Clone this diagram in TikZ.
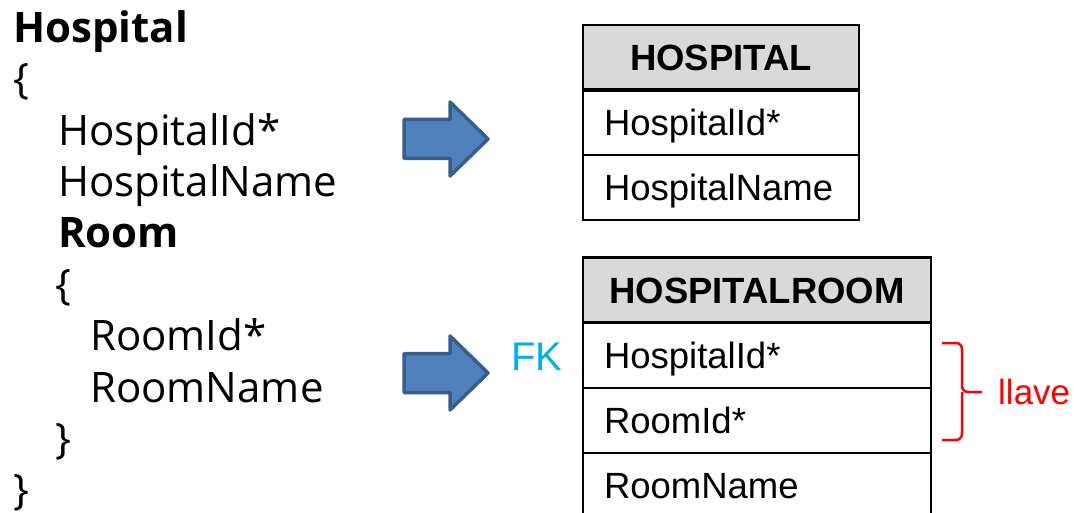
\documentclass[tikz,border=0pt]{standalone}
\usepackage{fontspec}
\setmainfont{Open Sans}
\newfontfamily\arialfont{Liberation Sans}
\usetikzlibrary{positioning}
\definecolor{headgray}{HTML}{D9D9D9}
\definecolor{arrowfill}{HTML}{4F81BD}
\definecolor{arrowline}{HTML}{385D8A}
\definecolor{fkcyan}{HTML}{00B0F0}

\begin{document}
\begin{tikzpicture}
[x=1pt,y=-1pt,
code/.style={font=\fontsize{42}{50}\selectfont,anchor=base west,inner sep=0pt},
thead/.style={draw,line width=2.5pt,fill=headgray,outer sep=0pt,inner sep=0pt,
  font=\arialfont\bfseries\fontsize{36.5}{43}\selectfont,
  minimum height=65pt,text height=26pt,text depth=0pt},
trow/.style={draw,line width=2pt,outer sep=0pt,inner ysep=0pt,inner xsep=21pt,
  font=\arialfont\fontsize{36.5}{43}\selectfont,align=left,
  minimum height=65pt,text height=26pt,text depth=0pt},
blockarrow/.style={fill=arrowfill,draw=arrowline,line width=3.5pt,line join=round},
]
\clip (0,0) rectangle (1074,513);

\node[code,font=\bfseries\fontsize{42}{50}\selectfont] (hosp) at (13,43) {Hospital};
\node[code] (ob1) at (13,94) {\{};
\node[code] (hid) at (58,146) {HospitalId*};
\node[code] (hname) at (58,197) {HospitalName};
\node[code,font=\bfseries\fontsize{42}{50}\selectfont] (room) at (58,248) {Room};
\node[code] (ob2) at (55,299) {\{};
\node[code] (rid) at (90,350) {RoomId*};
\node[code] (rname) at (90,402) {RoomName};
\node[code] (cb2) at (55,453) {\}};
\node[code] (cb1) at (13,504) {\}};

\foreach \y in {139,373}
  \draw[blockarrow] (404,\y-19.5) -- (450,\y-19.5) -- (450,\y-37) -- (488,\y)
    -- (450,\y+37) -- (450,\y+19.5) -- (404,\y+19.5) -- cycle;

\node[thead,minimum width=276pt] (t1) at (721,57.5) {HOSPITAL};
\node[trow,text width=234pt,below=0pt of t1] (t1a) {HospitalId*};
\node[trow,text width=234pt,below=0pt of t1a] (t1b) {HospitalName};
\draw[line width=3.5pt] (t1.south west) -- (t1.south east);

\node[thead,minimum width=348pt] (t2) at (757,290) {HOSPITALROOM};
\node[trow,text width=306pt,below=0pt of t2] (t2a) {HospitalId*};
\node[trow,text width=306pt,below=0pt of t2a] (t2b) {RoomId*};
\node[trow,text width=306pt,below=0pt of t2b] (t2c) {RoomName};
\draw[line width=3.5pt] (t2.south west) -- (t2.south east);

\node[font=\arialfont\fontsize{40}{48}\selectfont,text=fkcyan] (fk) at (537,357) {FK};

\draw[red,line width=2.5pt,rounded corners=6pt] (942,343) -- (962,343) -- (962,392) -- (982,392);
\draw[red,line width=2.5pt,rounded corners=6pt] (942,440) -- (962,440) -- (962,392);
\node[font=\arialfont\fontsize{35}{42}\selectfont,text=red,anchor=west,inner sep=0pt] (llave) at (998,392) {llave};
\end{tikzpicture}
\end{document}
